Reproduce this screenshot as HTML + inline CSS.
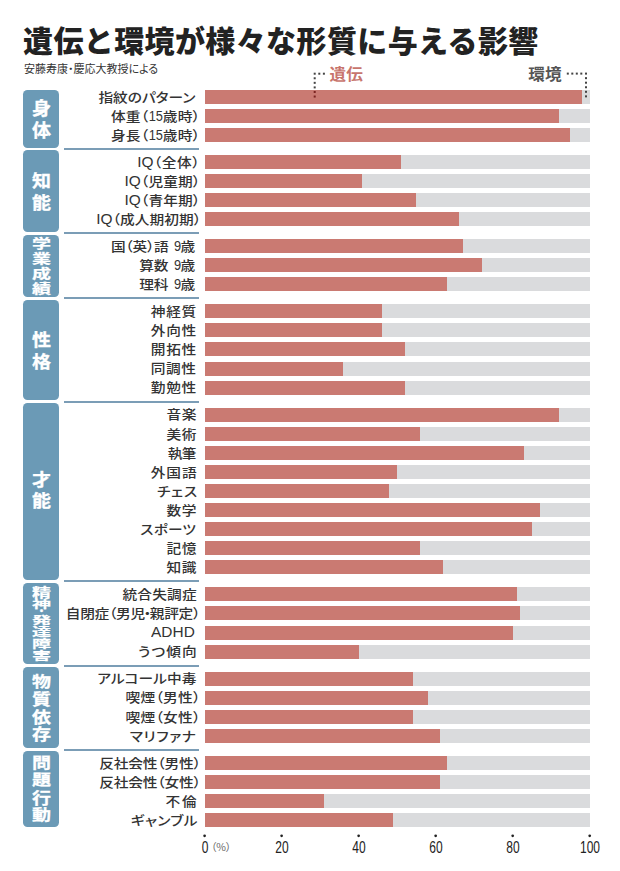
<!DOCTYPE html>
<html lang="ja"><head><meta charset="utf-8"><title>遺伝と環境が様々な形質に与える影響</title>
<style>
html,body{margin:0;padding:0;background:#fff;}
body{width:620px;height:871px;position:relative;overflow:hidden;font-family:"Liberation Sans","Noto Sans CJK JP",sans-serif;}
.a{position:absolute;}
.title{left:23px;top:18.5px;font-family:"Noto Sans CJK JP",sans-serif;font-weight:900;font-size:30px;line-height:40px;color:#222;white-space:nowrap;letter-spacing:0.39px;}
.sub{left:24px;top:61px;font-family:"Noto Sans CJK JP",sans-serif;font-size:11px;line-height:15px;color:#333;white-space:nowrap;font-feature-settings:"palt";}
.lg{font-family:"Noto Sans CJK JP",sans-serif;font-weight:700;font-size:16.6px;line-height:20px;white-space:nowrap;transform:scaleY(0.93);transform-origin:0 50%;}
.lab{text-align:right;white-space:nowrap;font-family:"Liberation Sans","Noto Sans CJK JP",sans-serif;font-weight:500;color:#333;font-feature-settings:"palt";transform:scale(1.05,0.93);transform-origin:100% 50%;}
.sp{display:inline-block;width:5px;}
.nk{margin:0 -1px;}
.mp{}
.lt{display:inline-block;font-family:'Liberation Sans',sans-serif;font-size:15px;font-weight:400;white-space:nowrap;letter-spacing:0;}
.lt>span{display:inline-block;transform-origin:0 75%;}
.op{margin-left:0px;margin-right:0px;}
.cp{margin-left:0px;margin-right:-3px;}
.trk{background:#dadbdd;}
.fill{background:#ca7a72;left:0;top:0;height:100%;}
.box{background:#6b9ab6;border-radius:4.5px;}
.ct{color:#fff;font-family:"Noto Sans CJK JP",sans-serif;font-weight:700;-webkit-text-stroke:0.35px #fff;text-align:center;white-space:nowrap;}
.sep{background:#7b9db6;height:2px;}
.dot{width:1.8px;height:1.8px;border-radius:50%;}
.num{font-family:"Liberation Sans",sans-serif;font-size:17.4px;line-height:16px;color:#222;transform:scaleX(0.69);transform-origin:50% 50%;width:40px;text-align:center;}
</style></head><body>
<div class="a title">遺伝と環境が様々な形質に与える影響</div>
<div class="a sub">安藤寿康・慶応大教授による</div>
<div class="a lg" style="left:329.6px;top:63.4px;color:#c8756d;">遺伝</div>
<div class="a lg" style="left:528.3px;top:63.2px;color:#555;">環境</div>
<div class="a trk" style="left:204.6px;top:89.80px;width:385.1px;height:14.0px;"><div class="a fill" style="width:377.40px;"></div></div>
<div class="a lab" style="right:425.12px;top:86.60px;font-size:14.0px;line-height:20px;letter-spacing:-0.02px;">指紋のパターン</div>
<div class="a trk" style="left:204.6px;top:108.90px;width:385.1px;height:14.0px;"><div class="a fill" style="width:354.29px;"></div></div>
<div class="a lab" style="right:423.00px;top:105.70px;font-size:14.0px;line-height:20px;letter-spacing:0.20px;">体重<span class="op">（</span><span class="lt" style="width:13.60px;margin-right:0.20px"><span style="transform:scale(0.815,1.0)">15</span></span>歳時<span class="cp">）</span></div>
<div class="a trk" style="left:204.6px;top:128.00px;width:385.1px;height:14.0px;"><div class="a fill" style="width:365.85px;"></div></div>
<div class="a lab" style="right:423.00px;top:124.80px;font-size:14.0px;line-height:20px;letter-spacing:0.20px;">身長<span class="op">（</span><span class="lt" style="width:13.60px;margin-right:0.20px"><span style="transform:scale(0.815,1.0)">15</span></span>歳時<span class="cp">）</span></div>
<div class="a trk" style="left:204.6px;top:154.93px;width:385.1px;height:14.0px;"><div class="a fill" style="width:196.40px;"></div></div>
<div class="a lab" style="right:422.72px;top:151.73px;font-size:14.0px;line-height:20px;letter-spacing:0.47px;"><span class="lt" style="width:15.52px;margin-right:0.47px"><span style="transform:scale(0.98,1.0)">IQ</span></span><span class="op">（</span>全体<span class="cp">）</span></div>
<div class="a trk" style="left:204.6px;top:174.03px;width:385.1px;height:14.0px;"><div class="a fill" style="width:157.89px;"></div></div>
<div class="a lab" style="right:423.10px;top:170.83px;font-size:14.0px;line-height:20px;letter-spacing:0.10px;"><span class="lt" style="width:15.52px;margin-right:0.10px"><span style="transform:scale(0.98,1.0)">IQ</span></span><span class="op">（</span>児童期<span class="cp">）</span></div>
<div class="a trk" style="left:204.6px;top:193.13px;width:385.1px;height:14.0px;"><div class="a fill" style="width:211.81px;"></div></div>
<div class="a lab" style="right:423.10px;top:189.93px;font-size:14.0px;line-height:20px;letter-spacing:0.10px;"><span class="lt" style="width:15.52px;margin-right:0.10px"><span style="transform:scale(0.98,1.0)">IQ</span></span><span class="op">（</span>青年期<span class="cp">）</span></div>
<div class="a trk" style="left:204.6px;top:212.23px;width:385.1px;height:14.0px;"><div class="a fill" style="width:254.17px;"></div></div>
<div class="a lab" style="right:422.13px;top:209.03px;font-size:14.0px;line-height:20px;letter-spacing:0.07px;"><span class="lt" style="width:15.52px;margin-right:0.07px"><span style="transform:scale(0.98,1.0)">IQ</span></span><span class="op">（</span>成人期初期<span class="cp">）</span></div>
<div class="a trk" style="left:204.6px;top:239.16px;width:385.1px;height:14.0px;"><div class="a fill" style="width:258.02px;"></div></div>
<div class="a lab" style="right:424.95px;top:235.96px;font-size:14.0px;line-height:20px;letter-spacing:-0.25px;">国<span class="op">（</span>英<span class="mp">）</span>語<span class="sp"></span><span class="lt" style="width:6.80px;margin-right:-0.25px"><span style="transform:scale(0.815,1.0)">9</span></span>歳</div>
<div class="a trk" style="left:204.6px;top:258.26px;width:385.1px;height:14.0px;"><div class="a fill" style="width:277.27px;"></div></div>
<div class="a lab" style="right:424.93px;top:255.06px;font-size:14.0px;line-height:20px;letter-spacing:-0.23px;">算数<span class="sp"></span><span class="lt" style="width:6.80px;margin-right:-0.23px"><span style="transform:scale(0.815,1.0)">9</span></span>歳</div>
<div class="a trk" style="left:204.6px;top:277.36px;width:385.1px;height:14.0px;"><div class="a fill" style="width:242.61px;"></div></div>
<div class="a lab" style="right:424.93px;top:274.16px;font-size:14.0px;line-height:20px;letter-spacing:-0.23px;">理科<span class="sp"></span><span class="lt" style="width:6.80px;margin-right:-0.23px"><span style="transform:scale(0.815,1.0)">9</span></span>歳</div>
<div class="a trk" style="left:204.6px;top:304.29px;width:385.1px;height:14.0px;"><div class="a fill" style="width:177.15px;"></div></div>
<div class="a lab" style="right:423.10px;top:301.09px;font-size:14.0px;line-height:20px;letter-spacing:0.59px;">神経質</div>
<div class="a trk" style="left:204.6px;top:323.39px;width:385.1px;height:14.0px;"><div class="a fill" style="width:177.15px;"></div></div>
<div class="a lab" style="right:423.11px;top:320.19px;font-size:14.0px;line-height:20px;letter-spacing:0.59px;">外向性</div>
<div class="a trk" style="left:204.6px;top:342.49px;width:385.1px;height:14.0px;"><div class="a fill" style="width:200.25px;"></div></div>
<div class="a lab" style="right:423.11px;top:339.29px;font-size:14.0px;line-height:20px;letter-spacing:0.59px;">開拓性</div>
<div class="a trk" style="left:204.6px;top:361.59px;width:385.1px;height:14.0px;"><div class="a fill" style="width:138.64px;"></div></div>
<div class="a lab" style="right:423.20px;top:358.39px;font-size:14.0px;line-height:20px;letter-spacing:0.50px;">同調性</div>
<div class="a trk" style="left:204.6px;top:380.69px;width:385.1px;height:14.0px;"><div class="a fill" style="width:200.25px;"></div></div>
<div class="a lab" style="right:423.10px;top:377.49px;font-size:14.0px;line-height:20px;letter-spacing:0.59px;">勤勉性</div>
<div class="a trk" style="left:204.6px;top:407.62px;width:385.1px;height:14.0px;"><div class="a fill" style="width:354.29px;"></div></div>
<div class="a lab" style="right:423.10px;top:404.42px;font-size:14.0px;line-height:20px;letter-spacing:0.59px;">音楽</div>
<div class="a trk" style="left:204.6px;top:426.72px;width:385.1px;height:14.0px;"><div class="a fill" style="width:215.66px;"></div></div>
<div class="a lab" style="right:423.10px;top:423.52px;font-size:14.0px;line-height:20px;letter-spacing:0.59px;">美術</div>
<div class="a trk" style="left:204.6px;top:445.82px;width:385.1px;height:14.0px;"><div class="a fill" style="width:319.63px;"></div></div>
<div class="a lab" style="right:424.15px;top:442.62px;font-size:14.0px;line-height:20px;letter-spacing:-0.45px;">執筆</div>
<div class="a trk" style="left:204.6px;top:464.92px;width:385.1px;height:14.0px;"><div class="a fill" style="width:192.55px;"></div></div>
<div class="a lab" style="right:422.87px;top:461.72px;font-size:14.0px;line-height:20px;letter-spacing:0.83px;">外国語</div>
<div class="a trk" style="left:204.6px;top:484.02px;width:385.1px;height:14.0px;"><div class="a fill" style="width:184.85px;"></div></div>
<div class="a lab" style="right:422.01px;top:480.82px;font-size:14.0px;line-height:20px;letter-spacing:0.69px;">チェス</div>
<div class="a trk" style="left:204.6px;top:503.12px;width:385.1px;height:14.0px;"><div class="a fill" style="width:335.04px;"></div></div>
<div class="a lab" style="right:423.10px;top:499.92px;font-size:14.0px;line-height:20px;letter-spacing:0.59px;">数学</div>
<div class="a trk" style="left:204.6px;top:522.22px;width:385.1px;height:14.0px;"><div class="a fill" style="width:327.34px;"></div></div>
<div class="a lab" style="right:423.58px;top:519.02px;font-size:14.0px;line-height:20px;letter-spacing:0.12px;">スポーツ</div>
<div class="a trk" style="left:204.6px;top:541.32px;width:385.1px;height:14.0px;"><div class="a fill" style="width:215.66px;"></div></div>
<div class="a lab" style="right:423.10px;top:538.12px;font-size:14.0px;line-height:20px;letter-spacing:0.59px;">記憶</div>
<div class="a trk" style="left:204.6px;top:560.42px;width:385.1px;height:14.0px;"><div class="a fill" style="width:238.76px;"></div></div>
<div class="a lab" style="right:423.10px;top:557.22px;font-size:14.0px;line-height:20px;letter-spacing:0.59px;">知識</div>
<div class="a trk" style="left:204.6px;top:587.35px;width:385.1px;height:14.0px;"><div class="a fill" style="width:311.93px;"></div></div>
<div class="a lab" style="right:423.53px;top:584.15px;font-size:14.0px;line-height:20px;letter-spacing:0.17px;">統合失調症</div>
<div class="a trk" style="left:204.6px;top:606.45px;width:385.1px;height:14.0px;"><div class="a fill" style="width:315.78px;"></div></div>
<div class="a lab" style="right:423.49px;top:603.25px;font-size:14.0px;line-height:20px;letter-spacing:-0.29px;">自閉症<span class="op">（</span>男児<span class="nk">・</span>親評定<span class="cp">）</span></div>
<div class="a trk" style="left:204.6px;top:625.55px;width:385.1px;height:14.0px;"><div class="a fill" style="width:308.08px;"></div></div>
<div class="a lab" style="right:427.64px;top:622.35px;font-size:14.0px;line-height:20px;letter-spacing:-2.64px;"><span class="lt" style="width:41.65px;margin-right:-2.64px"><span style="transform:scale(0.98,1.0)">ADHD</span></span></div>
<div class="a trk" style="left:204.6px;top:644.65px;width:385.1px;height:14.0px;"><div class="a fill" style="width:154.04px;"></div></div>
<div class="a lab" style="right:421.69px;top:641.45px;font-size:14.0px;line-height:20px;letter-spacing:1.01px;">うつ傾向</div>
<div class="a trk" style="left:204.6px;top:671.58px;width:385.1px;height:14.0px;"><div class="a fill" style="width:207.95px;"></div></div>
<div class="a lab" style="right:423.60px;top:668.38px;font-size:14.0px;line-height:20px;letter-spacing:0.10px;">アルコール中毒</div>
<div class="a trk" style="left:204.6px;top:690.68px;width:385.1px;height:14.0px;"><div class="a fill" style="width:223.36px;"></div></div>
<div class="a lab" style="right:422.97px;top:687.48px;font-size:14.0px;line-height:20px;letter-spacing:0.23px;">喫煙<span class="op">（</span>男性<span class="cp">）</span></div>
<div class="a trk" style="left:204.6px;top:709.78px;width:385.1px;height:14.0px;"><div class="a fill" style="width:207.95px;"></div></div>
<div class="a lab" style="right:422.97px;top:706.58px;font-size:14.0px;line-height:20px;letter-spacing:0.23px;">喫煙<span class="op">（</span>女性<span class="cp">）</span></div>
<div class="a trk" style="left:204.6px;top:728.88px;width:385.1px;height:14.0px;"><div class="a fill" style="width:234.91px;"></div></div>
<div class="a lab" style="right:423.06px;top:725.68px;font-size:14.0px;line-height:20px;letter-spacing:0.64px;">マリファナ</div>
<div class="a trk" style="left:204.6px;top:755.81px;width:385.1px;height:14.0px;"><div class="a fill" style="width:242.61px;"></div></div>
<div class="a lab" style="right:422.39px;top:752.61px;font-size:14.0px;line-height:20px;letter-spacing:-0.19px;">反社会性<span class="op">（</span>男性<span class="cp">）</span></div>
<div class="a trk" style="left:204.6px;top:774.91px;width:385.1px;height:14.0px;"><div class="a fill" style="width:234.91px;"></div></div>
<div class="a lab" style="right:422.39px;top:771.71px;font-size:14.0px;line-height:20px;letter-spacing:-0.19px;">反社会性<span class="op">（</span>女性<span class="cp">）</span></div>
<div class="a trk" style="left:204.6px;top:794.01px;width:385.1px;height:14.0px;"><div class="a fill" style="width:119.38px;"></div></div>
<div class="a lab" style="right:421.96px;top:790.81px;font-size:14.0px;line-height:20px;letter-spacing:1.74px;">不倫</div>
<div class="a trk" style="left:204.6px;top:813.11px;width:385.1px;height:14.0px;"><div class="a fill" style="width:188.70px;"></div></div>
<div class="a lab" style="right:422.29px;top:809.91px;font-size:14.0px;line-height:20px;letter-spacing:0.41px;">ギャンブル</div>
<div class="a sep" style="left:63.5px;width:135.5px;top:147.97px;"></div>
<div class="a sep" style="left:63.5px;width:135.5px;top:232.19px;"></div>
<div class="a sep" style="left:63.5px;width:135.5px;top:297.33px;"></div>
<div class="a sep" style="left:63.5px;width:135.5px;top:400.66px;"></div>
<div class="a sep" style="left:63.5px;width:135.5px;top:580.39px;"></div>
<div class="a sep" style="left:63.5px;width:135.5px;top:664.62px;"></div>
<div class="a sep" style="left:63.5px;width:135.5px;top:748.85px;"></div>
<div class="a box" style="left:23.3px;width:36.2px;top:90.00px;height:57.56px;"></div>
<div class="a ct" style="left:23.3px;width:36.2px;top:98.45px;font-size:19px;line-height:19px;transform:scaleY(0.947);transform-origin:50% 0;">身</div>
<div class="a ct" style="left:23.3px;width:36.2px;top:120.35px;font-size:19px;line-height:19px;transform:scaleY(0.953);transform-origin:50% 0;">体</div>
<div class="a box" style="left:23.3px;width:36.2px;top:150.37px;height:81.43px;"></div>
<div class="a ct" style="left:23.3px;width:36.2px;top:170.07px;font-size:19px;line-height:19px;transform:scaleY(0.926);transform-origin:50% 0;">知</div>
<div class="a ct" style="left:23.3px;width:36.2px;top:191.77px;font-size:19px;line-height:19px;transform:scaleY(0.926);transform-origin:50% 0;">能</div>
<div class="a box" style="left:23.3px;width:36.2px;top:234.59px;height:62.33px;"></div>
<div class="a ct" style="left:23.3px;width:36.2px;top:236.12px;font-size:19px;line-height:19px;transform:scaleY(0.679);transform-origin:50% 0;">学</div>
<div class="a ct" style="left:23.3px;width:36.2px;top:251.02px;font-size:19px;line-height:19px;transform:scaleY(0.679);transform-origin:50% 0;">業</div>
<div class="a ct" style="left:23.3px;width:36.2px;top:265.93px;font-size:19px;line-height:19px;transform:scaleY(0.674);transform-origin:50% 0;">成</div>
<div class="a ct" style="left:23.3px;width:36.2px;top:280.72px;font-size:19px;line-height:19px;transform:scaleY(0.679);transform-origin:50% 0;">績</div>
<div class="a box" style="left:23.3px;width:36.2px;top:299.73px;height:100.53px;"></div>
<div class="a ct" style="left:23.3px;width:36.2px;top:329.37px;font-size:19px;line-height:19px;transform:scaleY(0.926);transform-origin:50% 0;">性</div>
<div class="a ct" style="left:23.3px;width:36.2px;top:351.07px;font-size:19px;line-height:19px;transform:scaleY(0.926);transform-origin:50% 0;">格</div>
<div class="a box" style="left:23.3px;width:36.2px;top:403.06px;height:176.93px;"></div>
<div class="a ct" style="left:23.3px;width:36.2px;top:470.43px;font-size:19px;line-height:19px;transform:scaleY(0.868);transform-origin:50% 0;">才</div>
<div class="a ct" style="left:23.3px;width:36.2px;top:491.10px;font-size:19px;line-height:19px;transform:scaleY(0.900);transform-origin:50% 0;">能</div>
<div class="a box" style="left:23.3px;width:36.2px;top:582.79px;height:81.43px;"></div>
<div class="a ct" style="left:23.3px;width:36.2px;top:584.83px;font-size:19px;line-height:19px;transform:scaleY(0.674);transform-origin:50% 0;">精</div>
<div class="a ct" style="left:23.3px;width:36.2px;top:598.68px;font-size:19px;line-height:19px;transform:scaleY(0.516);transform-origin:50% 0;">神</div>
<div class="a ct" style="left:23.3px;width:36.2px;top:606.10px;font-size:10px;line-height:10px;">・</div>
<div class="a ct" style="left:23.3px;width:36.2px;top:613.65px;font-size:19px;line-height:19px;transform:scaleY(0.553);transform-origin:50% 0;">発</div>
<div class="a ct" style="left:23.3px;width:36.2px;top:625.01px;font-size:19px;line-height:19px;transform:scaleY(0.589);transform-origin:50% 0;">達</div>
<div class="a ct" style="left:23.3px;width:36.2px;top:636.78px;font-size:19px;line-height:19px;transform:scaleY(0.621);transform-origin:50% 0;">障</div>
<div class="a ct" style="left:23.3px;width:36.2px;top:649.49px;font-size:19px;line-height:19px;transform:scaleY(0.605);transform-origin:50% 0;">害</div>
<div class="a box" style="left:23.3px;width:36.2px;top:667.02px;height:81.43px;"></div>
<div class="a ct" style="left:23.3px;width:36.2px;top:672.59px;font-size:19px;line-height:19px;transform:scaleY(0.805);transform-origin:50% 0;">物</div>
<div class="a ct" style="left:23.3px;width:36.2px;top:689.87px;font-size:19px;line-height:19px;transform:scaleY(0.826);transform-origin:50% 0;">質</div>
<div class="a ct" style="left:23.3px;width:36.2px;top:707.57px;font-size:19px;line-height:19px;transform:scaleY(0.832);transform-origin:50% 0;">依</div>
<div class="a ct" style="left:23.3px;width:36.2px;top:725.37px;font-size:19px;line-height:19px;transform:scaleY(0.832);transform-origin:50% 0;">存</div>
<div class="a box" style="left:23.3px;width:36.2px;top:751.25px;height:75.45px;"></div>
<div class="a ct" style="left:23.3px;width:36.2px;top:753.59px;font-size:19px;line-height:19px;transform:scaleY(0.805);transform-origin:50% 0;">問</div>
<div class="a ct" style="left:23.3px;width:36.2px;top:771.39px;font-size:19px;line-height:19px;transform:scaleY(0.805);transform-origin:50% 0;">題</div>
<div class="a ct" style="left:23.3px;width:36.2px;top:788.57px;font-size:19px;line-height:19px;transform:scaleY(0.832);transform-origin:50% 0;">行</div>
<div class="a ct" style="left:23.3px;width:36.2px;top:806.39px;font-size:19px;line-height:19px;transform:scaleY(0.805);transform-origin:50% 0;">動</div>
<svg class="a" style="left:0;top:0;" width="620" height="871" viewBox="0 0 620 871">
<g fill="#444"><rect x="318.30" y="72.70" width="2" height="2"/><rect x="322.90" y="72.70" width="2" height="2"/><rect x="313.70" y="72.70" width="2" height="2" fill="#444"/><rect x="313.70" y="77.27" width="2" height="2" fill="#444"/><rect x="313.70" y="81.84" width="2" height="2" fill="#444"/><rect x="313.70" y="86.41" width="2" height="2" fill="#444"/><rect x="313.70" y="90.98" width="2" height="2" fill="#7a2320"/><rect x="313.70" y="95.55" width="2" height="2" fill="#7a2320"/><rect x="566.80" y="72.60" width="2" height="2"/><rect x="571.30" y="72.60" width="2" height="2"/><rect x="575.80" y="72.60" width="2" height="2"/><rect x="580.30" y="72.60" width="2" height="2"/><rect x="585.00" y="72.60" width="2" height="2"/><rect x="585.00" y="77.15" width="2" height="2"/><rect x="585.00" y="81.70" width="2" height="2"/><rect x="585.00" y="86.25" width="2" height="2"/><rect x="585.00" y="90.80" width="2" height="2"/><rect x="585.00" y="95.35" width="2" height="2"/></g>
<circle cx="204.60" cy="835.8" r="1.35" fill="#222"/><circle cx="281.62" cy="835.8" r="1.35" fill="#222"/><circle cx="358.64" cy="835.8" r="1.35" fill="#222"/><circle cx="435.66" cy="835.8" r="1.35" fill="#222"/><circle cx="512.68" cy="835.8" r="1.35" fill="#222"/><circle cx="589.70" cy="835.8" r="1.35" fill="#222"/></svg>
<div class="a num" style="left:184.60px;top:839px;">0</div>
<div class="a num" style="left:261.62px;top:839px;">20</div>
<div class="a num" style="left:338.64px;top:839px;">40</div>
<div class="a num" style="left:415.66px;top:839px;">60</div>
<div class="a num" style="left:492.68px;top:839px;">80</div>
<div class="a num" style="left:569.70px;top:839px;">100</div>
<div class="a" style="left:211px;top:840px;font-family:'Noto Sans CJK JP',sans-serif;font-size:10.5px;line-height:14px;color:#666;font-feature-settings:'palt';">（%）</div>
</body></html>
